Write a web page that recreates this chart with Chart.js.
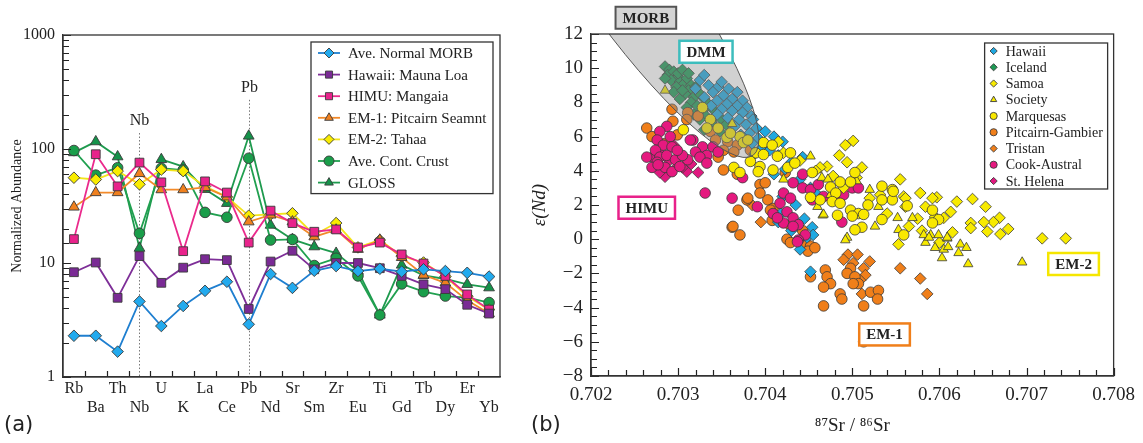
<!DOCTYPE html>
<html>
<head>
<meta charset="utf-8">
<script src="https://cdn.jsdelivr.net/npm/chart.js@4.4.1/dist/chart.umd.min.js"></script>
<style>
  body { margin: 0; background: #fff; }
  #wrap { position: relative; width: 1143px; height: 443px; }
  canvas { position: absolute; top: 0; }
  .tag { position: absolute; top: 412px; font: 21px "DejaVu Sans", sans-serif; color: #222; }
</style>
</head>
<body>
<div id="wrap">
  <canvas id="spider" width="525" height="443" style="left:0"></canvas>
  <canvas id="srnd" width="618" height="443" style="left:525px"></canvas>
  <div class="tag" style="left:4px">(a)</div>
  <div class="tag" style="left:531px">(b)</div>
</div>
<script>
const SERIF = '"Liberation Serif", "Times New Roman", serif';
const INK = "#333";

// ---------- (a) spider diagram data ----------
const elements = ["Rb", "Ba", "Th", "Nb", "U", "K", "La", "Ce", "Pb", "Nd",
  "Sr", "Sm", "Zr", "Eu", "Ti", "Gd", "Tb", "Dy", "Er", "Yb"];
const morbN    = [2.3, 2.3, 1.67, 4.6, 2.8, 4.2, 5.7, 6.85, 2.9, 8.0, 6.05, 8.55, 9.4, 8.5, 8.9, 8.4, 8.8, 8.5, 8.2, 7.6];
const maunaLoa = [8.3, 10.1, 4.95, 11.5, 6.7, 9.1, 10.8, 10.6, 3.95, 10.3, 12.8, 8.8, 10, 10, 9.0, 7.7, 6.5, 5.9, 4.3, 3.6];
const mangaia  = [16.2, 90, 47, 76, 51, 12.7, 52, 41.5, 15.1, 28.8, 22.4, 18.8, 19.7, 13.7, 15.1, 11.9, 9.9, 7.7, 5.3, 3.9];
const pitcairnSmt = [31, 41.5, 41.5, 61, 44, 44, 46, 38, 23, 26.4, 23, 17, 19.5, 13.2, 15.9, 11.2, 7.85, 6.7, 4.7, 3.6];
const tahaa    = [56, 54, 64, 49, 66, 64, 47, 38, 26, 26.7, 27.3, 17.6, 22.4, 13.7, 15.9, 11.5, 10.1, 7.6, 5.1, 3.9];
const contCrust = [97, 59, 68.5, 18.2, 67.7, 65.4, 27.8, 25.2, 83, 15.9, 16.1, 9.5, 11, 7.7, 3.5, 6.55, 5.6, 5.13, 4.97, 4.5];
const gloss    = [93, 116, 85.6, 13.5, 81, 70, 44.3, 33.4, 130, 21.5, 16.1, 13.9, 12.2, 8.5, 3.5, 9.6, 7.8, 7.24, 6.5, 6.07];

const markedElements = ["Nb", "Pb"];
const markedTops = [138, 270];   // top of the dotted guide, in abundance units

// ---------- (b) Sr-Nd isotope data ----------
const hawaii = [
  [0.70325,9.3],[0.70335,9.0],[0.70346,8.9],[0.70358,8.8],[0.70368,8.6],[0.70340,8.6],[0.70352,8.4],[0.70362,8.2],
  [0.70374,8.1],[0.70330,8.3],[0.70345,8.1],[0.70356,7.9],[0.70368,7.8],[0.70379,7.7],[0.70338,7.8],[0.70350,7.6],
  [0.70362,7.5],[0.70374,7.4],[0.70384,7.2],[0.70345,7.3],[0.70357,7.1],[0.70370,7.0],[0.70386,7.0],[0.70378,6.7],
  [0.70365,6.6],[0.70390,6.5],[0.70382,6.2],[0.70372,6.1],[0.70392,5.9],[0.70385,5.6],[0.70395,5.3],[0.70388,5.0],
  [0.70320,8.8],[0.70330,9.6],[0.70350,9.2],[0.70400,6.3],[0.70410,6.0],[0.70420,5.7],[0.70405,5.2],[0.70415,4.9],
  [0.70443,4.8],[0.70430,4.5],[0.70423,4.1],[0.70410,3.8],[0.70440,3.5],[0.70452,3.0],[0.70420,2.5],[0.70435,2.0],
  [0.70418,1.5],[0.70445,1.2],[0.70454,0.7],[0.70430,0.5],[0.70448,0.1],[0.70440,-0.6],[0.70452,-1.9],[0.70415,1.0],
  [0.70460,2.6],[0.70455,0.25]
];
const iceland = [
  [0.70285,10.1],[0.70290,9.9],[0.70288,9.6],[0.70295,9.8],[0.70300,9.5],[0.70292,9.3],[0.70302,9.2],[0.70310,9.4],
  [0.70305,9.0],[0.70298,8.9],[0.70315,9.0],[0.70312,8.7],[0.70320,8.9],[0.70308,8.5],[0.70295,8.6],[0.70318,8.3],
  [0.70325,8.5],[0.70302,8.2],[0.70330,8.2],[0.70315,8.0],[0.70322,7.8],[0.70335,7.9],[0.70310,7.7],[0.70328,7.5],
  [0.70340,7.6],[0.70318,7.3],[0.70332,7.2],[0.70345,7.3],[0.70325,7.0],[0.70338,6.9],[0.70350,7.0],[0.70342,6.6],
  [0.70355,6.7],[0.70330,6.4],[0.70348,6.3],[0.70300,9.7],[0.70285,9.4],[0.70305,8.7],[0.70305,9.9],[0.70312,9.7]
];
const samoa = [
  [0.70492,5.5],[0.70501,5.75],[0.70485,4.9],[0.70494,4.5],[0.70471,4.25],[0.70463,4.2],[0.70511,4.2],[0.70555,3.5],
  [0.70532,2.6],[0.70559,2.5],[0.70561,1.9],[0.70553,-0.3],[0.70415,5.7],[0.70421,5.05],[0.70578,2.7],[0.70597,2.45],
  [0.70620,2.2],[0.70638,2.35],[0.70653,1.9],[0.70669,1.25],[0.70679,0.6],[0.70662,1.0],[0.70651,1.0],[0.70636,0.95],
  [0.70636,0.65],[0.70655,0.45],[0.70670,0.3],[0.70718,0.05],[0.70745,0.05],[0.70613,1.6],[0.70592,2.4],[0.70584,1.9],
  [0.70595,1.3],[0.70605,1.25],[0.70565,0.75],[0.70561,2.4],[0.70440,4.6],[0.70458,4.0],[0.70478,3.7],[0.70505,3.6],
  [0.70490,3.0],[0.70520,2.4],[0.70540,1.5],[0.70575,1.2],[0.70580,0.5],[0.70600,-0.2],[0.70615,0.4]
];
const society = [
  [0.70285,8.7],[0.70362,6.75],[0.70452,4.85],[0.70465,3.6],[0.70472,3.5],[0.70460,1.9],[0.70466,1.4],[0.70494,0.1],
  [0.70526,0.75],[0.70552,1.25],[0.70421,3.5],[0.70467,1.45],[0.70492,-0.05],[0.70569,1.25],[0.70553,0.55],[0.70582,0.25],
  [0.70590,0.25],[0.70599,0.25],[0.70609,0.05],[0.70584,-0.2],[0.70595,-0.5],[0.70605,-0.6],[0.70610,-0.45],[0.70624,-0.3],
  [0.70631,-0.5],[0.70622,-0.8],[0.70603,-1.1],[0.70633,-1.45],[0.70695,-1.35],[0.70475,2.6],[0.70505,3.4],[0.70520,2.9],
  [0.70530,1.9],[0.70588,0.1],[0.70609,0.1]
];
const marquesas = [
  [0.70328,7.7],[0.70337,7.0],[0.70333,6.5],[0.70346,6.5],[0.70356,5.95],[0.70371,6.0],[0.70375,5.65],[0.70306,6.4],
  [0.70389,5.05],[0.70364,4.2],[0.70371,3.9],[0.70398,5.65],[0.70408,5.5],[0.70429,5.05],[0.70398,4.95],[0.70414,4.85],
  [0.70383,4.55],[0.70394,4.25],[0.70392,3.95],[0.70409,4.05],[0.70426,4.2],[0.70434,4.45],[0.70454,3.9],[0.70475,3.05],
  [0.70486,3.35],[0.70498,3.35],[0.70503,3.9],[0.70481,2.7],[0.70463,2.3],[0.70477,2.2],[0.70486,2.1],[0.70452,2.45],
  [0.70498,1.7],[0.70507,1.5],[0.70518,2.0],[0.70483,1.4],[0.70500,1.35],[0.70513,1.45],[0.70511,0.7],[0.70503,0.55],
  [0.70534,3.1],[0.70546,2.9],[0.70546,2.3],[0.70534,2.3],[0.70547,2.8],[0.70563,1.95],[0.70534,1.15],[0.70559,0.25],
  [0.70592,1.7],[0.70599,1.15],[0.70592,0.95],[0.70360,6.2],[0.70380,5.8]
];
const pitcairnGambier = [
  [0.70293,7.6],[0.70294,6.9],[0.70264,6.5],[0.70311,7.4],[0.70310,7.0],[0.70323,7.2],[0.70337,6.3],[0.70343,5.8],
  [0.70357,5.7],[0.70368,5.5],[0.70352,5.2],[0.70346,4.8],[0.70364,5.1],[0.70383,5.2],[0.70299,6.1],[0.70285,5.6],
  [0.70270,6.0],[0.70423,3.9],[0.70379,2.3],[0.70394,3.2],[0.70400,3.3],[0.70403,2.3],[0.70409,1.8],[0.70408,1.1],
  [0.70429,0.8],[0.70443,0.5],[0.70425,0.0],[0.70429,-0.2],[0.70446,-0.2],[0.70452,-0.4],[0.70371,0.25],[0.70362,0.7],
  [0.70363,0.75],[0.70369,1.7],[0.70449,-0.7],[0.70457,-0.5],[0.70352,4.05],[0.70368,3.8],[0.70394,2.7],[0.70380,2.4],
  [0.70406,1.7],[0.70452,-2.2],[0.70469,-1.8],[0.70471,-2.2],[0.70475,-2.6],[0.70467,-2.8],[0.70486,-3.2],[0.70488,-3.5],
  [0.70467,-3.9],[0.70513,-3.9],[0.70521,-3.1],[0.70530,-3.0],[0.70529,-3.5],[0.70513,-6.0],[0.70498,-1.7],[0.70494,-2.0],
  [0.70503,-2.2],[0.70507,-2.6],[0.70501,-2.6]
];
const tristan = [
  [0.70495,-0.9],[0.70506,-0.9],[0.70501,-1.4],[0.70513,-1.7],[0.70515,-2.1],[0.70509,-2.4],[0.70511,-3.2],[0.70555,-1.7],
  [0.70578,-2.3],[0.70586,-3.2],[0.70385,2.0],[0.70395,1.0],[0.70490,-1.2],[0.70520,-1.3]
];
const cookAustral = [
  [0.70287,6.6],[0.70279,6.3],[0.70291,6.0],[0.70276,5.8],[0.70283,5.5],[0.70293,5.4],[0.70274,5.2],[0.70279,4.8],
  [0.70287,4.9],[0.70297,4.65],[0.70276,4.5],[0.70270,4.2],[0.70285,4.2],[0.70293,3.95],[0.70302,4.25],[0.70317,5.8],
  [0.70328,5.4],[0.70320,5.1],[0.70333,4.9],[0.70325,4.8],[0.70340,5.4],[0.70346,5.1],[0.70311,4.65],[0.70305,4.9],
  [0.70299,5.2],[0.70264,4.8],[0.70277,4.35],[0.70314,5.8],[0.70331,2.7],[0.70362,2.4],[0.70333,4.45],[0.70374,3.6],
  [0.70391,1.9],[0.70421,2.7],[0.70432,3.3],[0.70443,3.8],[0.70443,3.0],[0.70452,2.9],[0.70429,2.4],[0.70417,2.1],
  [0.70409,1.5],[0.70425,1.6],[0.70432,1.25],[0.70421,0.95],[0.70438,0.85],[0.70446,0.25],[0.70438,-0.05],[0.70461,3.2],
  [0.70467,2.5],[0.70483,2.5],[0.70500,3.0],[0.70507,3.0],[0.70488,1.0],[0.70454,2.3],[0.70414,1.25],[0.70432,0.75],
  [0.70437,-0.15],[0.70490,2.6]
];
const stHelena = [
  [0.70285,3.65],[0.70279,3.9],[0.70310,3.95],[0.70323,3.9],[0.70300,4.3],[0.70290,4.6],[0.70280,5.0],[0.70295,5.5],
  [0.70305,4.2],[0.70270,4.8],[0.70315,4.4]
];

const fieldNames = ["MORB", "DMM", "HIMU", "EM-2", "EM-1"];
const fieldX = [0.70263, 0.70332, 0.70264, 0.70754, 0.70537];
const fieldY = [12.95, 10.96, 1.84, -1.45, -5.57];
const morbCentre = [0.70240, 15.4];
const morbTip = [0.70386, 4.9];

function whole(v, step) {
  return Math.abs(v / step - Math.round(v / step)) < 1e-6;
}

// ---------- shared plugins ----------
const framePlugin = {
  id: "frame",
  afterDraw(chart) {
    const { ctx, chartArea: a } = chart;
    ctx.save();
    ctx.strokeStyle = INK;
    ctx.lineWidth = 1.3;
    ctx.strokeRect(a.left, a.top, a.right - a.left, a.bottom - a.top);
    ctx.restore();
  },
};

// which tick values get the longer mark
const isMajor = {
  spider: { x: () => false, y: (v) => [1, 10, 100, 1000].includes(v) },
  srnd: { x: (v) => whole(v, 0.001), y: (v) => whole(v, 2) },
};

// tick marks pointing into the plot, on the left and bottom axes
const inwardTicks = {
  id: "inwardTicks",
  afterDatasetsDraw(chart) {
    const { ctx, chartArea: a, scales } = chart;
    const major = isMajor[chart.canvas.id];
    const sx = scales.x;
    const sy = scales.y;
    let xs = [];
    if (sx.type === "category") {
      for (let i = 1; i < chart.data.labels.length; i++) {
        xs.push({ p: (sx.getPixelForValue(i - 1) + sx.getPixelForValue(i)) / 2, big: false });
      }
    } else {
      xs = sx.ticks.map((t) => ({ p: sx.getPixelForValue(t.value), big: major.x(t.value) }));
    }
    ctx.save();
    ctx.strokeStyle = "#222";
    ctx.lineWidth = 1.2;
    ctx.beginPath();
    xs.forEach(({ p, big }) => {
      const x = Math.round(p) + 0.5;
      ctx.moveTo(x, a.bottom);
      ctx.lineTo(x, a.bottom - (big ? 8 : 6));
    });
    sy.ticks.forEach((t) => {
      const y = Math.round(sy.getPixelForValue(t.value)) + 0.5;
      ctx.moveTo(a.left, y);
      ctx.lineTo(a.left + (major.y(t.value) ? 8 : 6), y);
    });
    ctx.stroke();
    ctx.restore();
  },
};

// legend box drawn inside the plot area, top right corner
const boxLegend = {
  id: "boxLegend",
  afterDraw(chart, args, o) {
    const { ctx, chartArea: a } = chart;
    const sets = chart.data.datasets;
    const h = o.first * 2 + o.row * (sets.length - 1);
    const x0 = a.right - o.right - o.width;
    const y0 = a.top + o.top;
    ctx.save();
    ctx.fillStyle = "#fff";
    ctx.fillRect(x0, y0, o.width, h);
    ctx.strokeStyle = INK;
    ctx.lineWidth = 1.3;
    ctx.strokeRect(x0, y0, o.width, h);
    ctx.font = o.size + "px " + SERIF;
    ctx.textBaseline = "middle";
    sets.forEach((ds, i) => {
      const y = y0 + o.first + i * o.row;
      if (o.line) {
        ctx.strokeStyle = ds.borderColor;
        ctx.lineWidth = 1.8;
        ctx.beginPath();
        ctx.moveTo(x0 + 7, y);
        ctx.lineTo(x0 + 29, y);
        ctx.stroke();
      }
      ctx.fillStyle = ds.pointBackgroundColor;
      ctx.strokeStyle = "#3a3a3a";
      ctx.lineWidth = 0.9;
      Chart.helpers.drawPoint(ctx, { pointStyle: ds.pointStyle, rotation: 0, radius: o.marker, borderWidth: 0.9 },
        x0 + o.markerX, y);
      ctx.fillStyle = "#222";
      ctx.fillText(ds.label, x0 + o.textX, y + 1);
    });
    ctx.restore();
  },
};

// ---------- (a) ----------
const spiderSeries = [
  { label: "Ave. Normal MORB", values: morbN, line: "#1f7fd0", fill: "#22aaee", style: "rectRot", r: 5.8 },
  { label: "Hawaii: Mauna Loa", values: maunaLoa, line: "#7e2f98", fill: "#7a2a95", style: "rect", r: 6.2 },
  { label: "HIMU: Mangaia", values: mangaia, line: "#ea2a8c", fill: "#e8238b", style: "rect", r: 6.2 },
  { label: "EM-1: Pitcairn Seamnt", values: pitcairnSmt, line: "#f28a2a", fill: "#f0801e", style: "triangle", r: 6.2 },
  { label: "EM-2: Tahaa", values: tahaa, line: "#f2e51a", fill: "#f9ec00", style: "rectRot", r: 5.8 },
  { label: "Ave. Cont. Crust", values: contCrust, line: "#21a050", fill: "#1a9e4a", style: "circle", r: 5.3 },
  { label: "GLOSS", values: gloss, line: "#1e9a4e", fill: "#15924a", style: "triangle", r: 6.2 },
];

const markerPlugin = {
  id: "markers",
  beforeDatasetsDraw(chart) {
    const { ctx, chartArea: a, scales } = chart;
    ctx.save();
    markedElements.forEach((el, i) => {
      const x = Math.round(scales.x.getPixelForValue(elements.indexOf(el))) + 0.5;
      const yTop = scales.y.getPixelForValue(markedTops[i]);
      ctx.strokeStyle = "#777";
      ctx.lineWidth = 1;
      ctx.setLineDash([1.5, 2]);
      ctx.beginPath();
      ctx.moveTo(x, yTop);
      ctx.lineTo(x, a.bottom);
      ctx.stroke();
      ctx.setLineDash([]);
      ctx.fillStyle = "#222";
      ctx.font = "16px " + SERIF;
      ctx.textAlign = "center";
      ctx.textBaseline = "bottom";
      ctx.fillText(el, x, yTop - 4);
    });
    ctx.restore();
  },
};

new Chart(document.getElementById("spider"), {
  type: "line",
  data: {
    labels: elements.map((el, i) => (i % 2 ? ["", el] : el)),
    datasets: spiderSeries.map((s) => ({
      label: s.label,
      data: s.values,
      borderColor: s.line,
      backgroundColor: s.fill,
      borderWidth: 1.8,
      pointStyle: s.style,
      pointRadius: s.r,
      pointBackgroundColor: s.fill,
      pointBorderColor: "#3a3a3a",
      pointBorderWidth: 0.9,
      tension: 0,
    })),
  },
  options: {
    responsive: false,
    animation: false,
    events: [],
    layout: { padding: { left: 5, right: 25, top: 35, bottom: 26 } },
    plugins: {
      legend: { display: false },
      tooltip: { enabled: false },
      boxLegend: { width: 182, right: 7, top: 7, first: 11, row: 21.6, size: 15, line: true, marker: 5, markerX: 18, textX: 37 },
    },
    scales: {
      x: {
        offset: true,
        grid: { offset: true, drawOnChartArea: false, drawTicks: false },
        border: { color: INK, width: 1.3 },
        ticks: { autoSkip: false, maxRotation: 0, padding: 2, color: "#222", font: { family: SERIF, size: 16 } },
        afterFit: (s) => { s.height = 40; },
      },
      y: {
        type: "logarithmic",
        min: 1,
        max: 1000,
        grid: { drawOnChartArea: false, drawTicks: false },
        border: { color: INK, width: 1.3 },
        ticks: {
          autoSkip: false,
          padding: 8,
          color: "#222",
          font: { family: SERIF, size: 16 },
          callback: (v) => ([1, 10, 100, 1000].includes(v) ? String(v) : ""),
        },
        title: { display: true, text: "Normalized Abundance", color: "#222", font: { family: SERIF, size: 14 } },
        afterFit: (s) => { s.width = 58; },
      },
    },
  },
  plugins: [framePlugin, inwardTicks, boxLegend, markerPlugin],
});

// ---------- (b) ----------
const islandSeries = [
  { label: "Hawaii", points: hawaii, fill: "#1fa8e0", style: "rectRot", r: 5.8, order: 5 },
  { label: "Iceland", points: iceland, fill: "#1e9a55", style: "rectRot", r: 5.8, order: 8 },
  { label: "Samoa", points: samoa, fill: "#f7ea00", style: "rectRot", r: 5.8, order: 2 },
  { label: "Society", points: society, fill: "#f7ea00", style: "triangle", r: 5.5, order: 1 },
  { label: "Marquesas", points: marquesas, fill: "#f9e800", style: "circle", r: 5.3, order: 0 },
  { label: "Pitcairn-Gambier", points: pitcairnGambier, fill: "#f07f1a", style: "circle", r: 5.3, order: 6 },
  { label: "Tristan", points: tristan, fill: "#f07f1a", style: "rectRot", r: 5.8, order: 7 },
  { label: "Cook-Austral", points: cookAustral, fill: "#e5197f", style: "circle", r: 5.3, order: 3 },
  { label: "St. Helena", points: stHelena, fill: "#e0187f", style: "rectRot", r: 5.8, order: 4 },
];

const morbFieldPlugin = {
  id: "morbField",
  afterDatasetsDraw(chart) {
    const { ctx, chartArea: a, scales } = chart;
    const cx = scales.x.getPixelForValue(morbCentre[0]);
    const cy = scales.y.getPixelForValue(morbCentre[1]);
    const tx = scales.x.getPixelForValue(morbTip[0]);
    const ty = scales.y.getPixelForValue(morbTip[1]);
    const len = Math.hypot(tx - cx, ty - cy);
    ctx.save();
    ctx.beginPath();
    ctx.rect(a.left, a.top, a.right - a.left, a.bottom - a.top);
    ctx.clip();
    ctx.beginPath();
    ctx.ellipse(cx, cy, len, 48, Math.atan2(ty - cy, tx - cx), 0, Math.PI * 2);
    ctx.fillStyle = "rgba(140,140,140,0.40)";
    ctx.fill();
    ctx.strokeStyle = "#555";
    ctx.lineWidth = 1;
    ctx.stroke();
    ctx.restore();
  },
};

const fieldLabelPlugin = {
  id: "fieldLabels",
  afterDraw(chart) {
    const { ctx, scales } = chart;
    const edge = ["#555", "#3dbdbd", "#e8218a", "#f5e600", "#f07f1a"];
    ctx.save();
    ctx.font = "bold 15px " + SERIF;
    ctx.textAlign = "center";
    ctx.textBaseline = "middle";
    fieldNames.forEach((name, i) => {
      const x = scales.x.getPixelForValue(fieldX[i]);
      const y = scales.y.getPixelForValue(fieldY[i]);
      const w = ctx.measureText(name).width + 14;
      const h = 22;
      ctx.fillStyle = i === 0 ? "#d4d4d4" : "#fff";
      ctx.fillRect(x - w / 2, y - h / 2, w, h);
      ctx.strokeStyle = edge[i];
      ctx.lineWidth = i === 0 ? 2 : 2.5;
      ctx.strokeRect(x - w / 2, y - h / 2, w, h);
      ctx.fillStyle = "#222";
      ctx.fillText(name, x, y + 1);
    });
    ctx.restore();
  },
};

new Chart(document.getElementById("srnd"), {
  type: "scatter",
  data: {
    datasets: islandSeries.map((s) => ({
      label: s.label,
      data: s.points.map(([x, y]) => ({ x, y })),
      pointStyle: s.style,
      pointRadius: s.r,
      pointBackgroundColor: s.fill,
      backgroundColor: s.fill,
      pointBorderColor: "#3a3a3a",
      pointBorderWidth: 0.8,
      order: s.order,
    })),
  },
  options: {
    responsive: false,
    animation: false,
    events: [],
    layout: { padding: { left: 0, right: 28, top: 34, bottom: 2 } },
    plugins: {
      legend: { display: false },
      tooltip: { enabled: false },
      boxLegend: { width: 123, right: 6, top: 9, first: 8, row: 16.25, size: 14, line: false, marker: 3.6, markerX: 9, textX: 21 },
    },
    scales: {
      x: {
        type: "linear",
        min: 0.702,
        max: 0.708,
        grid: { drawOnChartArea: false, drawTicks: false },
        border: { color: INK, width: 1.3 },
        ticks: {
          stepSize: 0.0002,
          autoSkip: false,
          maxRotation: 0,
          padding: 8,
          color: "#222",
          font: { family: SERIF, size: 19 },
          callback: (v) => (whole(v, 0.001) ? v.toFixed(3) : ""),
        },
        title: { display: true, text: "\u2078\u2077Sr / \u2078\u2076Sr", color: "#222", font: { family: SERIF, size: 19 } },
        afterFit: (s) => { s.height = 65; },
      },
      y: {
        min: -8,
        max: 12,
        grid: { drawOnChartArea: false, drawTicks: false },
        border: { color: INK, width: 1.3 },
        ticks: {
          stepSize: 0.5,
          autoSkip: false,
          padding: 8,
          color: "#222",
          font: { family: SERIF, size: 19 },
          callback: (v) => (whole(v, 2) ? String(Math.round(v)).replace("-", "\u2212") : ""),
        },
        title: { display: true, text: "\u03b5(Nd)", color: "#222", font: { family: SERIF, size: 19, style: "italic" } },
        afterFit: (s) => { s.width = 66; },
      },
    },
  },
  plugins: [framePlugin, inwardTicks, morbFieldPlugin, boxLegend, fieldLabelPlugin],
});
</script>
</body>
</html>
